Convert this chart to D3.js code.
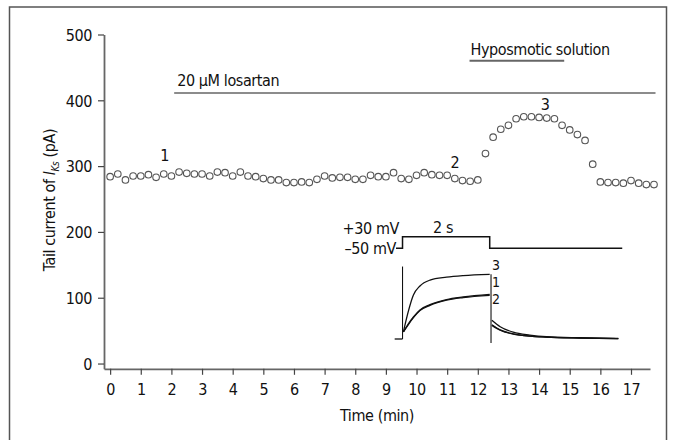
<!DOCTYPE html>
<html>
<head>
<meta charset="utf-8">
<script src="https://cdn.jsdelivr.net/npm/d3@7"></script>
<style>
  body { margin: 0; background: #fff; }
  text { font-family: "Liberation Sans Narrow", "DejaVu Sans Condensed", "Roboto Condensed", sans-serif; fill: #111; letter-spacing: -0.4px; }
</style>
</head>
<body>
<div id="chart"></div>
<script>
// tail current, one sweep every 15 s
var times = [0, 0.25, 0.5, 0.75, 1, 1.25, 1.5, 1.75, 2, 2.25, 2.5, 2.75,
  3, 3.25, 3.5, 3.75, 4, 4.25, 4.5, 4.75, 5, 5.25, 5.5, 5.75,
  6, 6.25, 6.5, 6.75, 7, 7.25, 7.5, 7.75, 8, 8.25, 8.5, 8.75,
  9, 9.25, 9.5, 9.75, 10, 10.25, 10.5, 10.75, 11, 11.25, 11.5, 11.75,
  12, 12.25, 12.5, 12.75, 13, 13.25, 13.5, 13.75, 14, 14.25, 14.5, 14.75,
  15, 15.25, 15.5, 15.75, 16, 16.25, 16.5, 16.75, 17, 17.25, 17.5, 17.75];
var tailCurrent = [284, 288, 279, 285, 285, 287, 283, 288, 285, 291, 289, 288,
  288, 285, 291, 290, 285, 291, 285, 284, 281, 279, 279, 275,
  275, 276, 275, 280, 285, 282, 283, 283, 280, 280, 286, 284,
  284, 290, 281, 280, 286, 290, 287, 286, 286, 281, 278, 277,
  279, 319, 344, 356, 362, 372, 375, 375, 374, 373, 372, 362,
  355, 348, 339, 303, 276, 275, 275, 274, 278, 274, 272, 272];

var xTicks = [0, 1, 2, 3, 4, 5, 6, 7, 8, 9, 10, 11, 12, 13, 14, 15, 16, 17];
var yTicks = [0, 100, 200, 300, 400, 500];

// numbered sweeps
var sweepLabels = ["1", "2", "3"];
var sweepTimes = [1.78, 11.25, 14.2];
var sweepLabelLevel = [308, 297, 385];

// application bars
var bars = ["20 \u03bcM losartan", "Hyposmotic solution"];
var barStart = [2.09, 11.73];
var barEnd = [17.8, 14.82];
var barLevel = [411, 460];

// inset: voltage protocol (s, mV)
var protoTime = [-0.15, 0, 0, 2, 2, 5.04];
var protoVolt = [-50, -50, 30, 30, -50, -50];

// inset: current traces (s, arbitrary units)
var onTimes = [0.02, 0.13, 0.25, 0.40, 0.63, 1.01, 1.39, 2.0];
var trace3On = [11, 42, 68, 82, 91, 95.5, 98, 100];
var trace1On = [11, 23, 34, 45, 53, 61, 65, 69];
var trace2On = [11, 22, 33, 44, 52, 60, 64, 67.5];
var offTimes = [2.05, 2.24, 2.54, 2.92, 3.30, 4.07, 4.95];
var trace3Off = [29, 19, 10.5, 6, 3.5, 2, 1];
var trace1Off = [22, 14, 8, 4.5, 3, 1.5, 0.5];
var trace2Off = [21, 13.5, 7.5, 4.5, 3, 1.5, 0.5];
var traceNames = ["3", "1", "2"];
var traceNameLevel = [106, 80.4, 54];

var width = 678, height = 440;

var svg = d3.select("#chart").append("svg")
    .attr("width", width)
    .attr("height", height);

// outer frame
svg.append("rect")
    .attr("x", 9.5).attr("y", 7)
    .attr("width", 657).attr("height", 450)
    .attr("fill", "none")
    .attr("stroke", "#555")
    .attr("stroke-width", 1.5);

var x = d3.scaleLinear().domain([-0.2, 17.62]).range([104, 650]);
var y = d3.scaleLinear().domain([-8, 500]).range([368.8, 34.5]);

// axes
var xAxis = svg.append("g")
    .attr("transform", "translate(0," + y(-8) + ")")
    .call(d3.axisBottom(x).tickValues(xTicks).tickSize(6).tickSizeOuter(0));
xAxis.select(".domain").attr("stroke", "#666").attr("stroke-width", 1.8);
xAxis.selectAll(".tick line").attr("stroke", "#444").attr("stroke-width", 1.2);
xAxis.selectAll(".tick text")
    .attr("y", 26).attr("dy", 0)
    .style("font-size", "16px").attr("fill", "#111");

var yAxis = svg.append("g")
    .attr("transform", "translate(" + x(-0.2) + ",0)")
    .call(d3.axisLeft(y).tickValues(yTicks).tickSize(6).tickSizeOuter(0));
yAxis.select(".domain").attr("stroke", "#666").attr("stroke-width", 1.8);
yAxis.selectAll(".tick line").attr("stroke", "#444").attr("stroke-width", 1.2);
yAxis.selectAll(".tick text")
    .attr("x", -12).attr("dy", "0.36em")
    .style("font-size", "16px").attr("fill", "#111");

// axis titles
svg.append("text")
    .attr("x", 377).attr("y", 421)
    .attr("text-anchor", "middle")
    .style("font-size", "16px")
    .text("Time (min)");

var yTitle = svg.append("text")
    .attr("transform", "translate(55,200) rotate(-90)")
    .attr("text-anchor", "middle")
    .style("font-size", "16px");
yTitle.append("tspan").text("Tail current of ");
yTitle.append("tspan").style("font-style", "italic").text("I");
yTitle.append("tspan").style("font-style", "italic").style("font-size", "10px")
    .attr("dy", 4).text("Ks");
yTitle.append("tspan").attr("dy", -4).text(" (pA)");

// data points
svg.selectAll("circle.pt")
    .data(tailCurrent)
    .enter()
    .append("circle")
    .attr("class", "pt")
    .attr("cx", function(d, i){ return x(times[i]); })
    .attr("cy", function(d){ return y(d); })
    .attr("r", 3.3)
    .attr("fill", "none")
    .attr("stroke", "#555")
    .attr("stroke-width", 1.1);

svg.selectAll("text.sweep")
    .data(sweepLabels)
    .enter()
    .append("text")
    .attr("class", "sweep")
    .attr("x", function(d, i){ return x(sweepTimes[i]); })
    .attr("y", function(d, i){ return y(sweepLabelLevel[i]); })
    .attr("text-anchor", "middle")
    .style("font-size", "16px")
    .text(function(d){ return d; });

// drug bars
bars.forEach(function(b, i){
  svg.append("line")
      .attr("x1", x(barStart[i])).attr("x2", x(barEnd[i]))
      .attr("y1", y(barLevel[i])).attr("y2", y(barLevel[i]))
      .attr("stroke", "#666")
      .attr("stroke-width", i == 0 ? 1.5 : 2);
  svg.append("text")
      .attr("x", x(barStart[i]) + (i == 0 ? 3 : 1))
      .attr("y", y(barLevel[i]) - (i == 0 ? 7 : 6))
      .style("font-size", "16px")
      .text(b);
});

// inset
var ix = d3.scaleLinear().domain([-0.2, 5.0]).range([393.8, 620.5]);
var iv = d3.scaleLinear().domain([-50, 30]).range([248.3, 236.7]);
var ic = d3.scaleLinear().domain([0, 100]).range([339, 274.3]);

var proto = protoTime.map(function(t, i){ return [t, protoVolt[i]]; });
svg.append("path")
    .datum(proto)
    .attr("d", d3.line().x(function(d){ return ix(d[0]); }).y(function(d){ return iv(d[1]); }))
    .attr("fill", "none")
    .attr("stroke", "#111")
    .attr("stroke-width", 1.5);

svg.append("text").attr("x", ix(-0.15) + 3).attr("y", 234)
    .attr("text-anchor", "end").style("font-size", "16px").text("+30 mV");
svg.append("text").attr("x", ix(-0.15)).attr("y", 254)
    .attr("text-anchor", "end").style("font-size", "16px").text("\u201350 mV");
svg.append("text").attr("x", ix(0.93)).attr("y", 233)
    .attr("text-anchor", "middle").style("font-size", "16px").text("2 s");

var cLine = d3.line()
    .x(function(d){ return ix(d[0]); })
    .y(function(d){ return ic(d[1]); })
    .curve(d3.curveMonotoneX);

// holding baseline and capacitive edges
svg.append("path")
    .datum([[-0.18, 0], [0, 0]])
    .attr("d", cLine)
    .attr("fill", "none").attr("stroke", "#111").attr("stroke-width", 1.3);
svg.append("line")
    .attr("x1", ix(0)).attr("x2", ix(0))
    .attr("y1", ic(112)).attr("y2", ic(0))
    .attr("stroke", "#111").attr("stroke-width", 1.1);
svg.append("line")
    .attr("x1", ix(2.03)).attr("x2", ix(2.03))
    .attr("y1", ic(100)).attr("y2", ic(-6))
    .attr("stroke", "#111").attr("stroke-width", 1.1);

var onSets = [trace3On, trace1On, trace2On];
var offSets = [trace3Off, trace1Off, trace2Off];
onSets.forEach(function(tr){
  svg.append("path")
      .datum(onTimes.map(function(t, i){ return [t, tr[i]]; }))
      .attr("d", cLine)
      .attr("fill", "none").attr("stroke", "#111").attr("stroke-width", 1.3);
});
offSets.forEach(function(tr){
  svg.append("path")
      .datum(offTimes.map(function(t, i){ return [t, tr[i]]; }))
      .attr("d", cLine)
      .attr("fill", "none").attr("stroke", "#111").attr("stroke-width", 1.3);
});

svg.selectAll("text.trace")
    .data(traceNames)
    .enter()
    .append("text")
    .attr("class", "trace")
    .attr("x", ix(2.05))
    .attr("y", function(d, i){ return ic(traceNameLevel[i]); })
    .style("font-size", "14px")
    .text(function(d){ return d; });
</script>
</body>
</html>
